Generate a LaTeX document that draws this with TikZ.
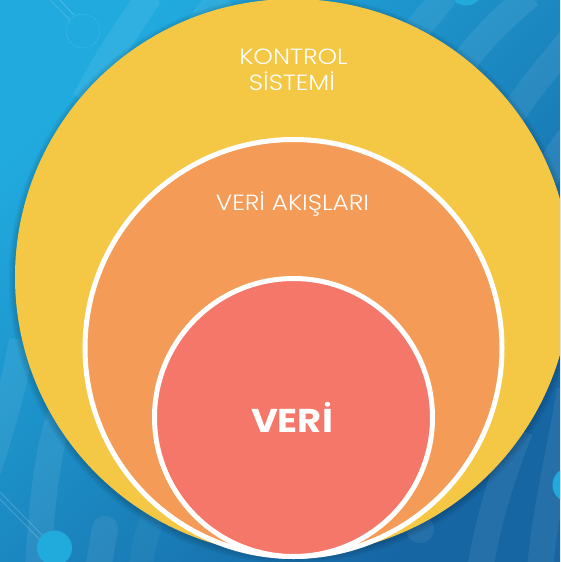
\documentclass[tikz,border=0pt]{standalone}
\usepackage{fontspec}
\setmainfont{Poppins}
\newfontfamily\lightfont[FakeStretch=1.13]{Poppins Light}
\newfontfamily\heavyfont[FakeStretch=1.12]{Poppins Bold}
\definecolor{bgtl}{RGB}{33,170,222}
\definecolor{bgbr}{RGB}{22,102,164}
\definecolor{dotblue}{RGB}{33,170,220}
\definecolor{ringyellow}{RGB}{244,199,68}
\definecolor{ringorange}{RGB}{244,155,87}
\definecolor{ringred}{RGB}{244,119,106}
\tikzset{
  band/.style={white,opacity=.07,line width=26pt},
  halo/.style={black,opacity=.035},
  disc/.style={line width=5pt,draw=white},
  wire/.style={white,opacity=.22,line width=.7pt},
  label/.style={white,align=center,inner sep=0pt,font=\lightfont\fontsize{22}{26}\selectfont},
}
\begin{document}
\begin{tikzpicture}[x=1pt,y=-1pt]
\useasboundingbox (0,0) rectangle (560,562);
\begin{scope}
\clip (0,0) rectangle (560,562);
\shade[top color=bgtl,bottom color=bgbr,shading angle=45] (0,0) rectangle (560,562);
% stripes, top
\draw[band] (85,100) .. controls (105,60) and (130,25) .. (150,-5);
\draw[band] (190,40) .. controls (200,25) and (210,10) .. (222,-5);
\draw[band] (400,50) .. controls (415,30) and (430,15) .. (445,-5);
\draw[band] (455,75) .. controls (475,45) and (500,20) .. (530,-5);
\draw[band] (505,125) .. controls (525,95) and (545,70) .. (570,40);
\draw[band] (545,180) .. controls (550,165) and (560,150) .. (572,135);
% stripes, bottom
\draw[band] (22,340) .. controls (15,380) and (5,420) .. (-12,470);
\draw[band] (62,410) .. controls (50,440) and (42,490) .. (38,570);
\draw[band,opacity=.04,line width=24pt] (165,490) .. controls (150,520) and (142,545) .. (141,570);
\draw[band] (520,430) .. controls (505,470) and (490,510) .. (480,570);
\draw[band] (570,390) .. controls (560,450) and (545,510) .. (540,570);
\draw[band,line cap=round] (105,529) .. controls (103,540) and (100,555) .. (98,575);
\fill[white,opacity=.07] (420,529) circle (14);
% decoration
\draw[wire] (48,-2) -- (70,20);
\draw[wire] (58,-2) -- (74,15);
\draw[white,opacity=.22,line width=.5pt,dash pattern=on 1pt off 1pt] (83,31) circle (17);
\draw[wire] (-2,490) -- (44,537);
\draw[wire] (-2,497) -- (40,540);
\fill[dotblue] (54.5,548) circle (17.5);
\fill[dotblue] (466,-12) circle (17.5);
\fill[dotblue] (570,485) circle (17.5);
% soft shadow
\foreach \r in {9,7,5,3,1}{\fill[halo] (293,279) circle ({278+\r*.7});}
% rings
\fill[ringyellow] (293,277) circle (278);
\fill[ringorange,disc] (293.5,348) circle (208.5);
\fill[ringred,disc] (293.5,417.5) circle (139);
\end{scope}
\node[label] (kontrol) at (293.5,57) {KONTROL};
\node[label] (sistemi) at (292,81.5) {SİSTEMİ};
\node[label] (akislari) at (292.5,204) {VERİ AKIŞLARI};
\node[white,inner sep=0pt,font=\heavyfont\fontsize{33}{40}\selectfont] (veri) at (292,417) {VERİ};
\end{tikzpicture}
\end{document}
